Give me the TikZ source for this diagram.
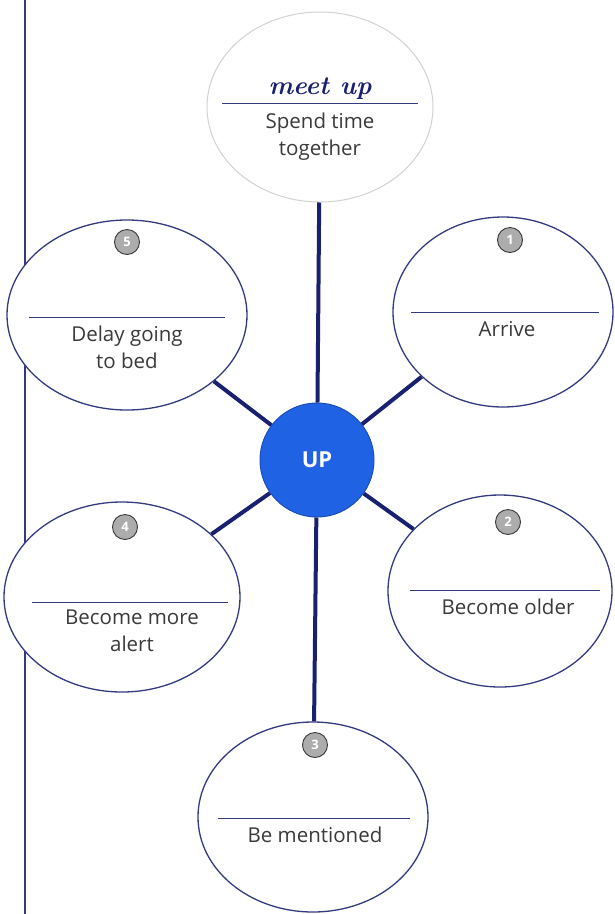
\documentclass[tikz,border=0pt]{standalone}
\usepackage{fontspec}
\setmainfont{Open Sans}
\newfontfamily\hand{Latin Modern Roman}
\usetikzlibrary{shapes.geometric,positioning,calc}
\definecolor{navy}{RGB}{26,32,112}
\definecolor{rim}{RGB}{52,58,128}
\definecolor{upblue}{RGB}{32,98,228}
\definecolor{ink}{RGB}{58,58,58}

\begin{document}
\begin{tikzpicture}[x=1pt,y=-1pt,
    bubble/.style={ellipse,draw=rim,line width=1.3pt,fill=white,inner sep=0pt},
    numdot/.style={circle,fill=gray!65,draw=gray!45!black,line width=0.9pt,minimum size=25pt,inner sep=0pt,text=white,font=\bfseries\fontsize{13}{13}\selectfont},
    rule/.style={rim,line width=1pt},
    meaning/.style={align=center,inner sep=0pt,text=ink,font=\fontsize{20.5}{27}\selectfont},
    link/.style={navy,line width=4pt}]
  \useasboundingbox (0,0) rectangle (615,914);

  % margin rule of the page
  \coordinate (margintop) at (25,0);
  \coordinate (marginbot) at (25,914);
  \draw[rim,line width=1.3pt] (margintop) -- (marginbot);

  % the bubbles
  \node[bubble,draw=gray!35,line width=1pt,minimum width=226pt,minimum height=190pt] (Top)   at (320,107) {};
  \node[bubble,minimum width=240pt,minimum height=190pt]                            (Five)  at (127,315) {};
  \node[bubble,minimum width=220pt,minimum height=190pt]                            (One)   at (503,312) {};
  \node[bubble,minimum width=236pt,minimum height=190pt]                            (Four)  at (122,597) {};
  \node[bubble,minimum width=224pt,minimum height=192pt]                            (Two)   at (500,591) {};
  \node[bubble,minimum width=230pt,minimum height=190pt]                            (Three) at (313,817) {};
  \node[circle,fill=upblue,draw=upblue!80!black,line width=1pt,minimum size=114pt,inner sep=0pt,
        text=white,font=\bfseries\fontsize{22}{22}\selectfont] (Up) at (317,460) {UP};

  % spokes
  \draw[link] (Up) -- (Top);
  \draw[link] (Up) -- (Five);
  \draw[link] (Up) -- (One);
  \draw[link] (Up) -- (Four);
  \draw[link] (Up) -- (Two);
  \draw[link] (Up) -- (Three);

  % top bubble: the worked example
  \draw[rule] ($(Top)+(-98,-4)$) -- ($(Top)+(98,-4)$);
  \node[anchor=south,inner sep=0pt,text=navy,font=\hand\itshape\bfseries\fontsize{26}{26}\selectfont] (TopWord) at ($(Top)+(0,-7)$) {meet up};
  \node[meaning,anchor=north] (TopText) at ($(Top)+(0,6)$) {Spend time\\together};

  % numbered bubbles
  \node[numdot] (NumFive)  at ($(Five)+(0,-73)$)  {5};
  \draw[rule] ($(Five)+(-98,2)$) -- ($(Five)+(98,2)$);
  \node[meaning,anchor=north] (TextFive) at ($(Five)+(0,11)$) {Delay going\\to bed};

  \node[numdot] (NumOne)   at ($(One)+(7,-72)$)   {1};
  \draw[rule] ($(One)+(-92,0)$) -- ($(One)+(96,0)$);
  \node[meaning,anchor=north] (TextOne) at ($(One)+(4,9)$) {Arrive};

  \node[numdot] (NumFour)  at ($(Four)+(3,-70)$)  {4};
  \draw[rule] ($(Four)+(-90,5)$) -- ($(Four)+(106,5)$);
  \node[meaning,anchor=north] (TextFour) at ($(Four)+(10,13)$) {Become more\\alert};

  \node[numdot] (NumTwo)   at ($(Two)+(8,-69)$)   {2};
  \draw[rule] ($(Two)+(-90,-1)$) -- ($(Two)+(100,-1)$);
  \node[meaning,anchor=north] (TextTwo) at ($(Two)+(8,8)$) {Become older};

  \node[numdot] (NumThree) at ($(Three)+(2,-72)$) {3};
  \draw[rule] ($(Three)+(-95,1)$) -- ($(Three)+(97,1)$);
  \node[meaning,anchor=north] (TextThree) at ($(Three)+(2,10)$) {Be mentioned};
\end{tikzpicture}
\end{document}
